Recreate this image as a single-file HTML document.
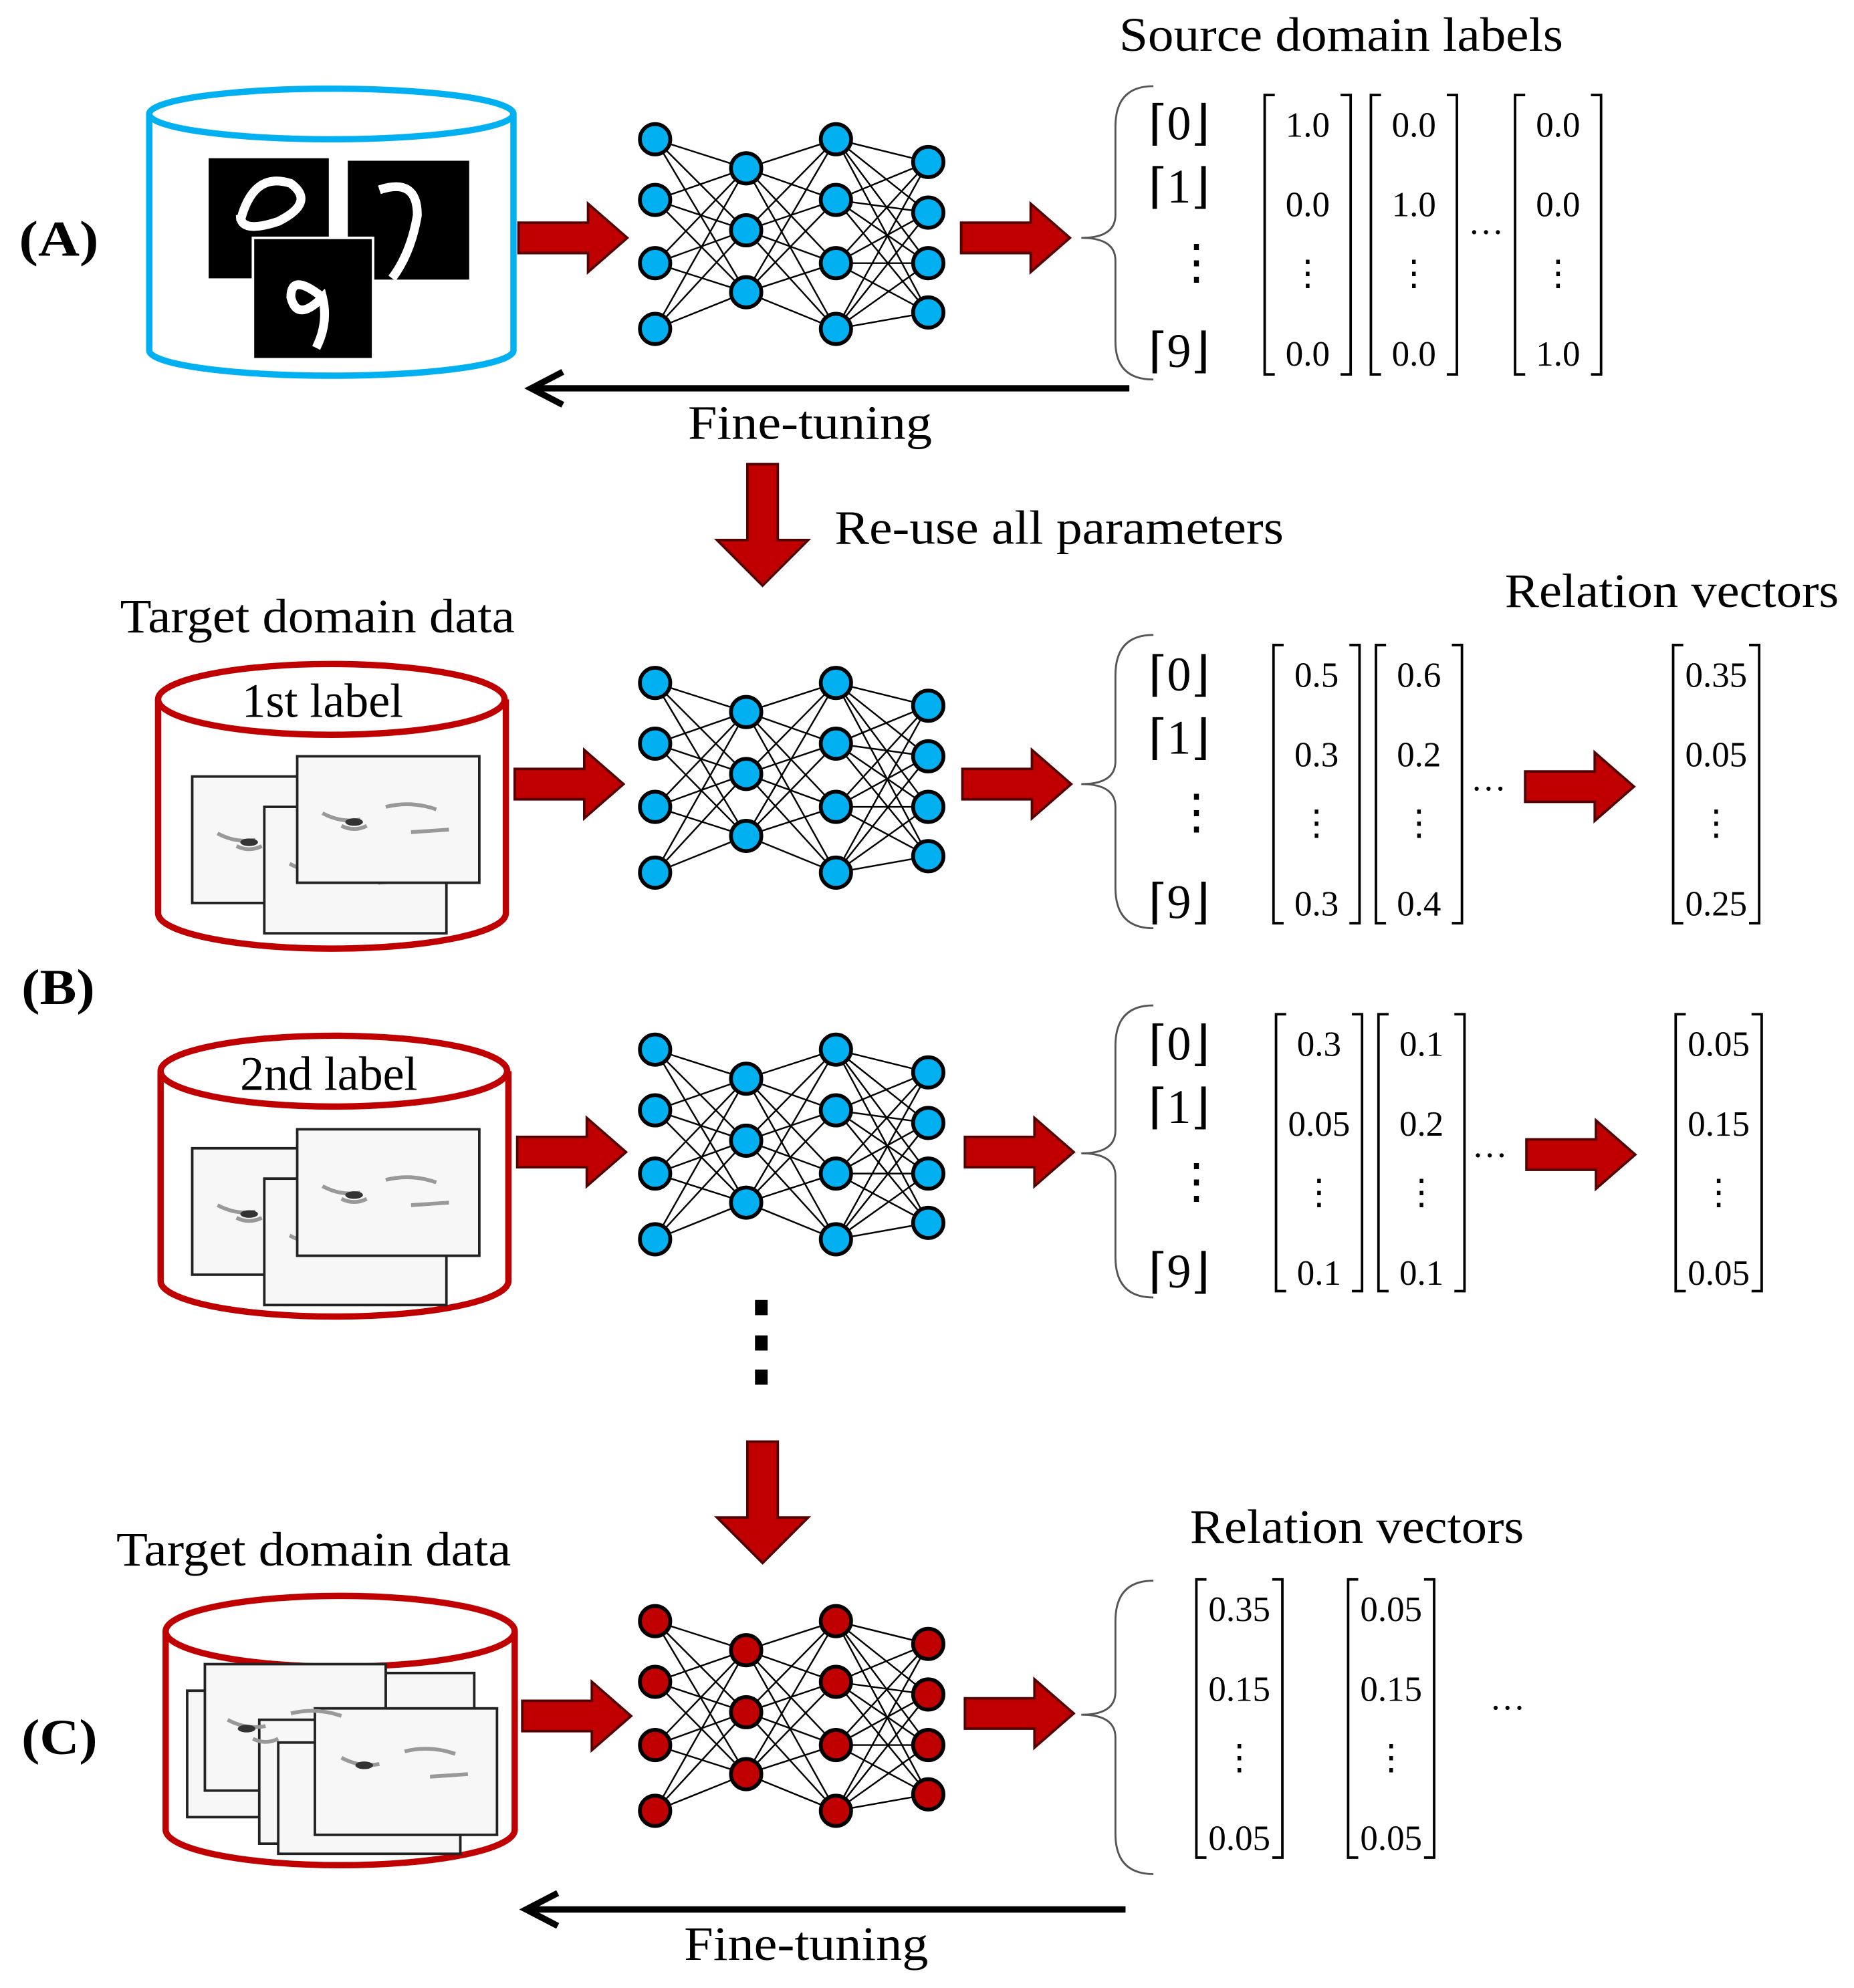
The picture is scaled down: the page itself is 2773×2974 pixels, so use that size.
<!DOCTYPE html>
<html><head><meta charset="utf-8"><style>
html,body{margin:0;padding:0;background:#fff;}
svg{display:block;}
text{font-family:"Liberation Serif","DejaVu Serif",serif;fill:#000;}
.t{font-size:38px;}
.n{font-size:28px;}
.lab{font-size:40px;font-weight:bold;}
</style></head><body>
<svg width="2773" height="2974" viewBox="0 0 1466 1572" xmlns="http://www.w3.org/2000/svg">
<defs>
<g id="rarrow"><path d="M0,-12 L55,-12 L55,-27 L86,0 L55,27 L55,12 L0,12 Z" fill="#c00000" stroke="#500" stroke-width="2"/></g>
<g id="darrow"><path d="M-12,0 L12,0 L12,60 L36,60 L0,96 L-36,60 L-12,60 Z" fill="#c00000" stroke="#500" stroke-width="2"/></g>
<g id="img"><rect width="144" height="100" fill="#f7f7f7" stroke="#222" stroke-width="2"/>
<path d="M20,45 q15,8 30,5 M35,55 q10,5 20,0 M70,40 q20,-5 40,2 M90,60 l30,-2" stroke="#999" stroke-width="3" fill="none"/>
<ellipse cx="45" cy="52" rx="7" ry="3" fill="#333"/></g>
</defs>

<text class="lab" x="15" y="202" textLength="63" lengthAdjust="spacingAndGlyphs">(A)</text>
<text class="lab" x="17" y="794" textLength="58" lengthAdjust="spacingAndGlyphs">(B)</text>
<text class="lab" x="17" y="1387" textLength="60" lengthAdjust="spacingAndGlyphs">(C)</text>

<!-- A cylinder -->
<g fill="none" stroke="#00b0f0" stroke-width="5">
<ellipse cx="262" cy="90" rx="144" ry="20"/>
<path d="M118,90 L118,277 A144,20 0 0 0 406,277 L406,90"/>
</g>
<rect x="165" y="125" width="95" height="95" fill="#000"/>
<rect x="275" y="127" width="96" height="94" fill="#000"/>
<rect x="200" y="188" width="95" height="96" fill="#000" stroke="#fff" stroke-width="2"/>
<path d="M190,175 q10,-40 40,-30 q20,15 -10,30 q-30,10 -30,-5" stroke="#fff" stroke-width="7" fill="none"/>
<path d="M300,150 q30,-10 30,20 q-5,30 -20,50" stroke="#fff" stroke-width="7" fill="none"/>
<path d="M255,235 q-25,-20 -25,0 q5,20 25,0 q5,20 -5,40" stroke="#fff" stroke-width="7" fill="none"/>

<!-- B1 cylinder -->
<g fill="#fff" stroke="#c00000" stroke-width="5">
<path d="M125,553 L125,722 A137,28 0 0 0 400,722 L400,553" />
<ellipse cx="262" cy="553" rx="137" ry="28"/>
</g>
<text class="t" x="255" y="567" text-anchor="middle">1st label</text>
<use href="#img" x="152" y="614"/>
<use href="#img" x="209" y="638"/>
<use href="#img" x="235" y="598"/>

<!-- B2 cylinder -->
<g fill="#fff" stroke="#c00000" stroke-width="5">
<path d="M127,847 L127,1013 A137,28 0 0 0 402,1013 L402,847"/>
<ellipse cx="264" cy="847" rx="137" ry="28"/>
</g>
<text class="t" x="260" y="862" text-anchor="middle">2nd label</text>
<use href="#img" x="152" y="908"/>
<use href="#img" x="209" y="932"/>
<use href="#img" x="235" y="893"/>

<!-- C cylinder -->
<g fill="#fff" stroke="#c00000" stroke-width="5">
<path d="M131,1290 L131,1447 A138,28 0 0 0 407,1447 L407,1290"/>
<ellipse cx="269" cy="1290" rx="138" ry="28"/>
</g>
<g fill="#f7f7f7" stroke="#222" stroke-width="2">
<rect x="148" y="1337" width="110" height="100"/>
<rect x="305" y="1323" width="70" height="100"/>
<rect x="162" y="1316" width="143" height="100"/>
<rect x="205" y="1360" width="110" height="98"/>
<rect x="220" y="1378" width="144" height="88"/>
<rect x="249" y="1351" width="144" height="100"/>
</g>
<g stroke="#999" stroke-width="3" fill="none">
<path d="M180,1360 q15,8 30,5 M200,1375 q10,5 20,0 M230,1355 q20,-5 40,2"/>
<path d="M270,1390 q15,8 30,5 M320,1385 q20,-5 40,2 M340,1405 l30,-2"/>
</g>
<ellipse cx="195" cy="1367" rx="7" ry="3" fill="#333"/>
<ellipse cx="288" cy="1396" rx="7" ry="3" fill="#333"/>

<text class="t" x="95" y="500" textLength="312" lengthAdjust="spacingAndGlyphs">Target domain data</text>
<text class="t" x="92" y="1238" textLength="312" lengthAdjust="spacingAndGlyphs">Target domain data</text>

<use href="#rarrow" x="410" y="188"/>
<use href="#rarrow" x="760" y="188"/>
<use href="#rarrow" x="407" y="620"/>
<use href="#rarrow" x="761" y="620"/>
<use href="#rarrow" x="1206" y="622"/>
<use href="#rarrow" x="409" y="911"/>
<use href="#rarrow" x="763" y="911"/>
<use href="#rarrow" x="1207" y="913"/>
<use href="#rarrow" x="413" y="1357"/>
<use href="#rarrow" x="763" y="1355"/>
<use href="#darrow" x="603" y="367"/>
<use href="#darrow" x="603" y="1140"/>
<text class="t" x="660" y="430" textLength="355" lengthAdjust="spacingAndGlyphs">Re-use all parameters</text>
<g fill="#000"><rect x="597" y="1028" width="10" height="12"/><rect x="597" y="1056" width="10" height="12"/><rect x="597" y="1083" width="10" height="12"/></g>

<g stroke="#000" stroke-width="5" fill="none">
<line x1="893" y1="307" x2="422" y2="307"/><path d="M445,294 L420,307 L445,320"/>
<line x1="890" y1="1510" x2="418" y2="1510"/><path d="M441,1497 L416,1510 L441,1523"/>
</g>
<text class="t" x="544" y="347" textLength="193" lengthAdjust="spacingAndGlyphs">Fine-tuning</text>
<text class="t" x="541" y="1550" textLength="193" lengthAdjust="spacingAndGlyphs">Fine-tuning</text>

<script>
(function(){
var ns="http://www.w3.org/2000/svg",svg=document.querySelector('svg');
function net(dy,fill){
 var L=[[518,[110,158,208,260]],[590,[133,182,231]],[661,[110,158,208,260]],[734,[128,168,208,247]]];
 var g=document.createElementNS(ns,'g');
 for(var i=0;i<3;i++)for(var a of L[i][1])for(var b of L[i+1][1]){
  var l=document.createElementNS(ns,'line');
  l.setAttribute('x1',L[i][0]);l.setAttribute('y1',a+dy);l.setAttribute('x2',L[i+1][0]);l.setAttribute('y2',b+dy);
  l.setAttribute('stroke','#000');l.setAttribute('stroke-width','1.3');g.appendChild(l);}
 for(var k of L)for(var y of k[1]){
  var c=document.createElementNS(ns,'circle');c.setAttribute('cx',k[0]);c.setAttribute('cy',y+dy);c.setAttribute('r',12);
  c.setAttribute('fill',fill);c.setAttribute('stroke','#000');c.setAttribute('stroke-width','3');g.appendChild(c);}
 svg.appendChild(g);}
net(0,'#00b0f0');net(430,'#00b0f0');net(720,'#00b0f0');net(1172,'#c00000');
})();
</script>

<g stroke="#555" stroke-width="1.5" fill="none">
<path d="M912,68 Q882,68 882,100 L882,170 Q882,188 855,188 Q882,188 882,206 L882,270 Q882,300 912,300"/>
<path d="M912,502 Q882,502 882,534 L882,602 Q882,620 855,620 Q882,620 882,638 L882,702 Q882,734 912,734"/>
<path d="M912,795 Q882,795 882,827 L882,894 Q882,912 855,912 Q882,912 882,930 L882,994 Q882,1026 912,1026"/>
<path d="M912,1250 Q882,1250 882,1282 L882,1338 Q882,1356 855,1356 Q882,1356 882,1374 L882,1450 Q882,1482 912,1482"/>
</g>

<text class="t" x="885" y="40" textLength="351" lengthAdjust="spacingAndGlyphs">Source domain labels</text>
<text class="t" x="1190" y="480" textLength="264" lengthAdjust="spacingAndGlyphs">Relation vectors</text>
<text class="t" x="941" y="1220" textLength="264" lengthAdjust="spacingAndGlyphs">Relation vectors</text>

<g class="t" style="font-size:38px">
<text x="908" y="110">⌈0⌋</text><text x="908" y="160">⌈1⌋</text><text x="927" y="220">⋮</text><text x="908" y="290">⌈9⌋</text>
<text x="908" y="546">⌈0⌋</text><text x="908" y="596">⌈1⌋</text><text x="927" y="655">⋮</text><text x="908" y="726">⌈9⌋</text>
<text x="908" y="838">⌈0⌋</text><text x="908" y="888">⌈1⌋</text><text x="927" y="947">⋮</text><text x="908" y="1018">⌈9⌋</text>
</g>

<script>
(function(){
var ns="http://www.w3.org/2000/svg",svg=document.querySelector('svg');
function mat(x,w,y0,y1,vals){
 var p=document.createElementNS(ns,'path');
 p.setAttribute('d','M'+(x+8)+','+y0+' L'+x+','+y0+' L'+x+','+y1+' L'+(x+8)+','+y1+' M'+(x+w-8)+','+y0+' L'+(x+w)+','+y0+' L'+(x+w)+','+y1+' L'+(x+w-8)+','+y1);
 p.setAttribute('stroke','#000');p.setAttribute('stroke-width','2');p.setAttribute('fill','none');svg.appendChild(p);
 var ys=[y0+33,y0+96,y0+150,y0+214];
 vals.forEach(function(v,i){var t=document.createElementNS(ns,'text');t.setAttribute('x',x+w/2);t.setAttribute('y',ys[i]);
  t.setAttribute('text-anchor','middle');t.setAttribute('class','n');t.textContent=v;svg.appendChild(t);});
}
function dots(x,y){var t=document.createElementNS(ns,'text');t.setAttribute('x',x);t.setAttribute('y',y);t.setAttribute('class','n');t.setAttribute('text-anchor','middle');t.textContent='…';svg.appendChild(t);}
mat(1000,68,75,296,['1.0','0.0','⋮','0.0']);mat(1084,68,75,296,['0.0','1.0','⋮','0.0']);mat(1198,68,75,296,['0.0','0.0','⋮','1.0']);dots(1175,185);
mat(1007,68,510,730,['0.5','0.3','⋮','0.3']);mat(1088,68,510,730,['0.6','0.2','⋮','0.4']);mat(1323,68,510,730,['0.35','0.05','⋮','0.25']);dots(1177,625);
mat(1009,68,802,1021,['0.3','0.05','⋮','0.1']);mat(1090,68,802,1021,['0.1','0.2','⋮','0.1']);mat(1325,68,802,1021,['0.05','0.15','⋮','0.05']);dots(1178,915);
mat(946,68,1249,1469,['0.35','0.15','⋮','0.05']);mat(1066,68,1249,1469,['0.05','0.15','⋮','0.05']);dots(1192,1352);
})();
</script>
</svg>
</body></html>
